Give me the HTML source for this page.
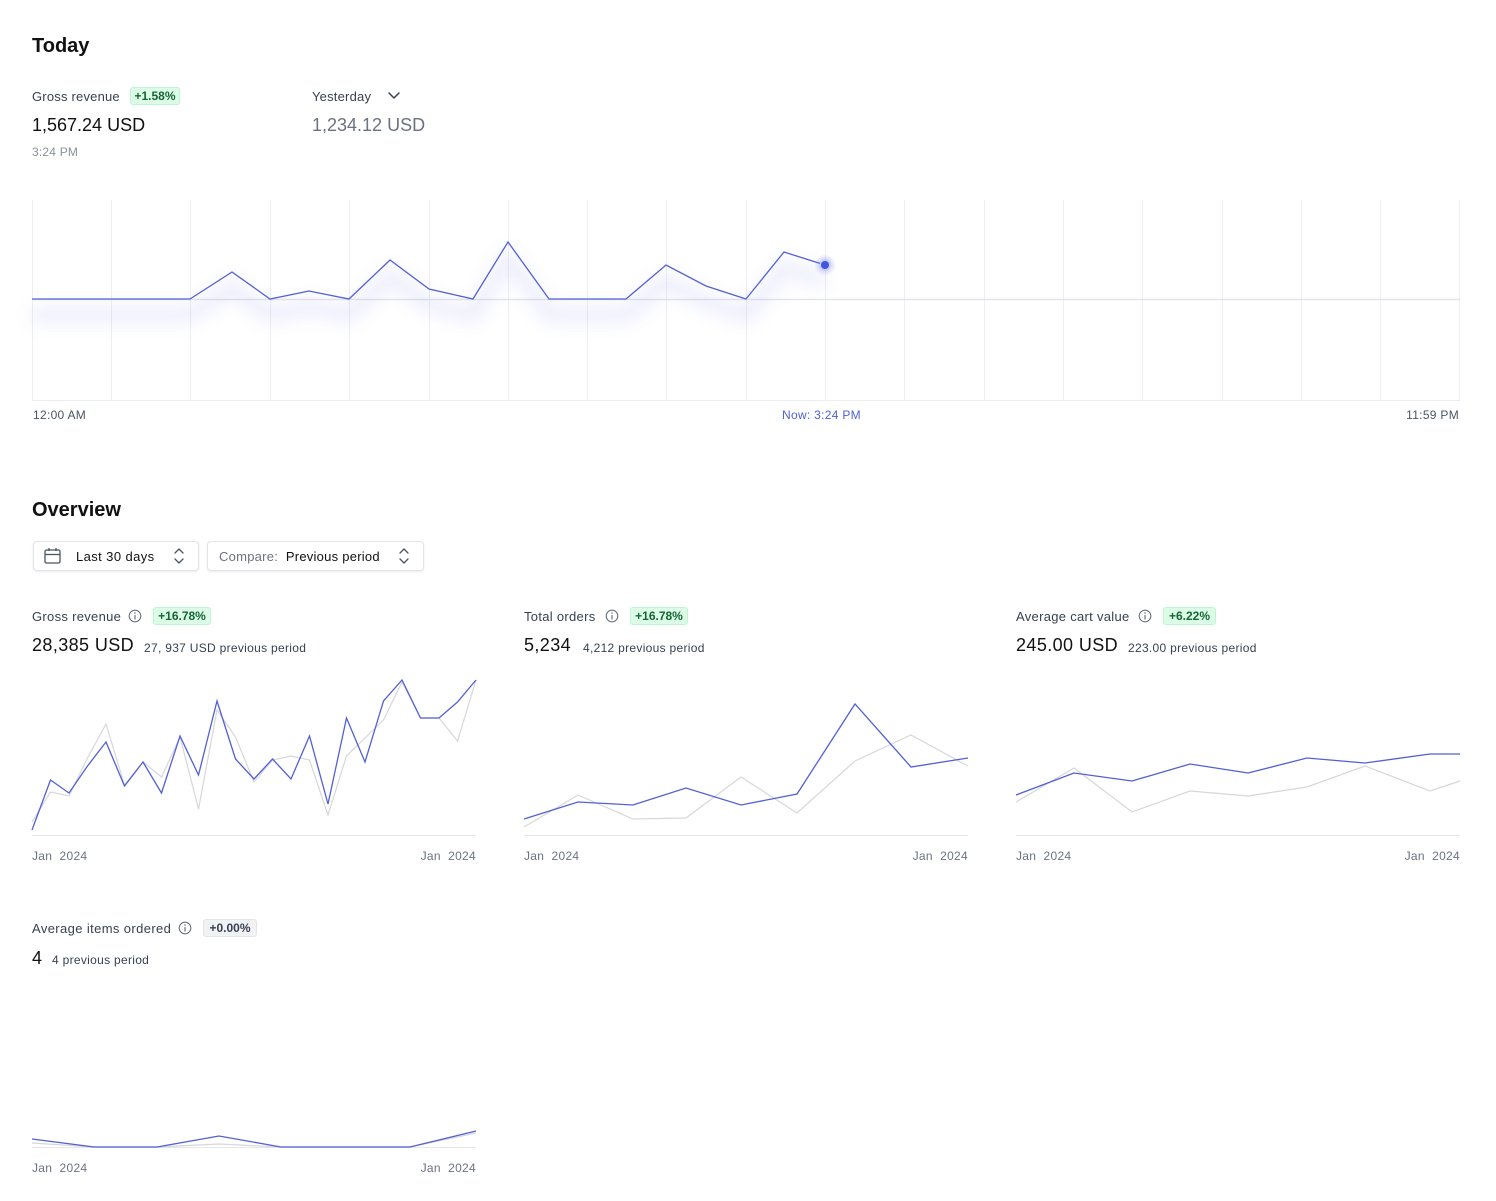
<!DOCTYPE html>
<html><head><meta charset="utf-8">
<style>
*{margin:0;padding:0;box-sizing:border-box}
html,body{width:1496px;height:1201px;background:#fff;overflow:hidden}
body{position:relative;font-family:"Liberation Sans",Arial,sans-serif;color:#111827}
.t{position:absolute;white-space:nowrap;line-height:1}
.h{font-size:20px;font-weight:bold;color:#111}
.lbl{font-size:13px;color:#374151;letter-spacing:.3px}
.val{font-size:18px;color:#111}
.val2{font-size:18px;color:#111;letter-spacing:.4px}
.sub{font-size:12px;color:#374151;letter-spacing:.3px}
.ax{font-size:12px;color:#6b7280;letter-spacing:.3px}
.badge{position:absolute;height:18px;border-radius:3px;background:#dcfce7;border:1px solid #bbf7d0;color:#166534;font-size:12px;line-height:16px;text-align:center;font-weight:bold}
.badge.g{background:#f1f2f4;border-color:#e3e5e8;color:#374151}
.btn{position:absolute;top:541px;height:30px;border:1px solid #e2e4e8;border-radius:4px;box-shadow:0 1px 2px rgba(0,0,0,.08);background:#fff}
svg{position:absolute;left:0;top:0}
</style></head><body>

<div class="btn" style="left:33px;width:166px"></div>
<div class="btn" style="left:207px;width:217px"></div>

<svg width="1496" height="1201" viewBox="0 0 1496 1201">
  <defs>
    <filter id="blur" x="-10%" y="-50%" width="120%" height="200%"><feGaussianBlur stdDeviation="8"/></filter>
    <radialGradient id="halo"><stop offset="0" stop-color="#4a5ee8" stop-opacity=".45"/><stop offset="1" stop-color="#4a5ee8" stop-opacity="0"/></radialGradient>
  </defs>
  <g stroke="#eceef2" stroke-width="1">
    <line x1="32.5" y1="200" x2="32.5" y2="400"/>
    <line x1="111.5" y1="200" x2="111.5" y2="400"/>
    <line x1="190.5" y1="200" x2="190.5" y2="400"/>
    <line x1="270.5" y1="200" x2="270.5" y2="400"/>
    <line x1="349.5" y1="200" x2="349.5" y2="400"/>
    <line x1="429.5" y1="200" x2="429.5" y2="400"/>
    <line x1="508.5" y1="200" x2="508.5" y2="400"/>
    <line x1="587.5" y1="200" x2="587.5" y2="400"/>
    <line x1="666.5" y1="200" x2="666.5" y2="400"/>
    <line x1="746.5" y1="200" x2="746.5" y2="400"/>
    <line x1="825.5" y1="200" x2="825.5" y2="400"/>
    <line x1="904.5" y1="200" x2="904.5" y2="400"/>
    <line x1="984.5" y1="200" x2="984.5" y2="400"/>
    <line x1="1063.5" y1="200" x2="1063.5" y2="400"/>
    <line x1="1142.5" y1="200" x2="1142.5" y2="400"/>
    <line x1="1222.5" y1="200" x2="1222.5" y2="400"/>
    <line x1="1301.5" y1="200" x2="1301.5" y2="400"/>
    <line x1="1380.5" y1="200" x2="1380.5" y2="400"/>
    <line x1="1459.5" y1="200" x2="1459.5" y2="400"/>
    <line x1="32" y1="400.5" x2="1460" y2="400.5"/>
  </g>
  <line x1="32" y1="299.5" x2="1460" y2="299.5" stroke="#e3e5e9" stroke-width="1.5"/>
  <polyline transform="translate(0,16)" filter="url(#blur)" fill="none" stroke="#6f7be6" stroke-opacity=".12" stroke-width="16" stroke-linejoin="round"
    points="32,299 111,299 190,299 232,272 270,299 309,291 349,299 390,260 429,289 473,299 508,242 549,299 587,299 626,299 666,265 706,286 746,299 784,252 825,265"/>
  <polyline fill="none" stroke="#5260d6" stroke-width="1.3" stroke-linejoin="miter"
    points="32,299 111,299 190,299 232,272 270,299 309,291 349,299 390,260 429,289 473,299 508,242 549,299 587,299 626,299 666,265 706,286 746,299 784,252 825,265"/>
  <circle cx="825" cy="265" r="11" fill="url(#halo)"/>
  <circle cx="825" cy="265" r="5.5" fill="#c7ccf6"/>
  <circle cx="825" cy="265" r="4" fill="#3f55e0"/>

  <line x1="32" y1="835.5" x2="476" y2="835.5" stroke="#e5e7eb"/>
  <polyline fill="none" stroke="#d6d7da" stroke-width="1.2" points="32,822 50.5,792 69,796 87.5,758 106,724 124.5,785 143,762 161.5,777 180,737 198.5,809 217,710 235.5,737 254,782 272.5,760 291,756 309.5,760 328,815 346.5,756 365,738 383.5,720 402,682 420.5,718 439,718 457.5,741 476,680"/>
  <polyline fill="none" stroke="#5260d6" stroke-width="1.3" points="32,830 50.5,780 69,793 87.5,766 106,742 124.5,786 143,762 161.5,793 180,736 198.5,775 217,701 235.5,759 254,779 272.5,759 291,779 309.5,736 328,804 346.5,718 365,762 383.5,701 402,680 420.5,718 439,718 457.5,702 476,680"/>

  <line x1="524" y1="835.5" x2="968" y2="835.5" stroke="#e5e7eb"/>
  <polyline fill="none" stroke="#d6d7da" stroke-width="1.2" points="524,827 578,795 633,819 686,818 741,777 797,813 855,761 911,735 968,766"/>
  <polyline fill="none" stroke="#5260d6" stroke-width="1.3" points="524,819 578,802 633,805 686,788 741,805 797,794 855,704 911,767 968,758"/>

  <line x1="1016" y1="835.5" x2="1460" y2="835.5" stroke="#e5e7eb"/>
  <polyline fill="none" stroke="#d6d7da" stroke-width="1.2" points="1016,802 1074,768 1132,812 1190,791 1248,796 1307,787 1365,766 1430,791 1460,781"/>
  <polyline fill="none" stroke="#5260d6" stroke-width="1.3" points="1016,795 1074,773 1132,781 1190,764 1248,773 1307,758 1365,763 1430,754 1460,754"/>

  <line x1="32" y1="1147.5" x2="476" y2="1147.5" stroke="#e5e7eb"/>
  <polyline fill="none" stroke="#d6d7da" stroke-width="1.2" points="32,1143 94,1147 157,1147 219,1144 281,1147 410,1147 476,1133"/>
  <polyline fill="none" stroke="#5260d6" stroke-width="1.3" points="32,1139 94,1147 157,1147 219,1136 281,1147 410,1147 476,1131"/>

  <polyline points="389,93 394,98 399,93" fill="none" stroke="#374151" stroke-width="1.5" stroke-linecap="round" stroke-linejoin="round"/>
  <g fill="none" stroke="#4b5563" stroke-width="1.3">
    <rect x="45" y="550" width="15" height="13" rx="1.5"/>
    <line x1="45" y1="554.5" x2="60" y2="554.5"/>
    <line x1="49" y1="548" x2="49" y2="551"/>
    <line x1="56" y1="548" x2="56" y2="551"/>
  </g>
  <g fill="none" stroke="#4b5563" stroke-width="1.3" stroke-linecap="round" stroke-linejoin="round">
    <polyline points="175,553 179,549 183,553"/><polyline points="175,559 179,563 183,559"/>
    <polyline points="400,553 404,549 408,553"/><polyline points="400,559 404,563 408,559"/>
  </g>
  <g fill="none" stroke="#6b7280" stroke-width="1.1">
    <circle cx="135" cy="616" r="5.8"/>
    <circle cx="612" cy="616" r="5.8"/>
    <circle cx="1145" cy="616" r="5.8"/>
    <circle cx="185" cy="928" r="5.8"/>
  </g>
  <g stroke="#6b7280" stroke-width="1.2">
    <line x1="135" y1="615" x2="135" y2="619.5"/><line x1="612" y1="615" x2="612" y2="619.5"/>
    <line x1="1145" y1="615" x2="1145" y2="619.5"/><line x1="185" y1="927" x2="185" y2="931.5"/>
  </g>
  <g fill="#6b7280">
    <circle cx="135" cy="613" r=".8"/><circle cx="612" cy="613" r=".8"/>
    <circle cx="1145" cy="613" r=".8"/><circle cx="185" cy="925" r=".8"/>
  </g>
</svg>

<div class="t h" style="left:32px;top:36px">Today</div>
<div class="t lbl" style="left:32px;top:90px;letter-spacing:.2px">Gross revenue</div>
<div class="badge" style="left:130px;top:87px;width:50px">+1.58%</div>
<div class="t lbl" style="left:312px;top:90px;letter-spacing:.2px">Yesterday</div>
<div class="t val" style="left:32px;top:116px">1,567.24 USD</div>
<div class="t val" style="left:312px;top:116px;color:#6b7280">1,234.12 USD</div>
<div class="t" style="left:32px;top:146px;font-size:12px;color:#8b919a;letter-spacing:.2px">3:24 PM</div>

<div class="t ax" style="left:33px;top:409px;color:#4b5563">12:00 AM</div>
<div class="t ax" style="left:782px;top:409px;color:#4f62d8">Now: 3:24 PM</div>
<div class="t ax" style="right:37px;top:409px;color:#4b5563">11:59 PM</div>

<div class="t h" style="left:32px;top:500px">Overview</div>
<div class="t" style="left:76px;top:550px;font-size:13px;color:#111;letter-spacing:.4px">Last 30 days</div>
<div class="t" style="left:219px;top:550px;font-size:13px;color:#6b7280;letter-spacing:.25px">Compare:&nbsp; <span style="color:#111">Previous period</span></div>

<div class="t lbl" style="left:32px;top:610px">Gross revenue</div>
<div class="badge" style="left:153px;top:607px;width:58px">+16.78%</div>
<div class="t val2" style="left:32px;top:636px">28,385 USD</div>
<div class="t sub" style="left:144px;top:642px">27, 937 USD previous period</div>
<div class="t ax" style="left:32px;top:850px">Jan&nbsp; 2024</div>
<div class="t ax" style="right:1020px;top:850px">Jan&nbsp; 2024</div>

<div class="t lbl" style="left:524px;top:610px">Total orders</div>
<div class="badge" style="left:630px;top:607px;width:58px">+16.78%</div>
<div class="t val2" style="left:524px;top:636px">5,234</div>
<div class="t sub" style="left:583px;top:642px">4,212 previous period</div>
<div class="t ax" style="left:524px;top:850px">Jan&nbsp; 2024</div>
<div class="t ax" style="right:528px;top:850px">Jan&nbsp; 2024</div>

<div class="t lbl" style="left:1016px;top:610px">Average cart value</div>
<div class="badge" style="left:1163px;top:607px;width:53px">+6.22%</div>
<div class="t val2" style="left:1016px;top:636px">245.00 USD</div>
<div class="t sub" style="left:1128px;top:642px">223.00 previous period</div>
<div class="t ax" style="left:1016px;top:850px">Jan&nbsp; 2024</div>
<div class="t ax" style="right:36px;top:850px">Jan&nbsp; 2024</div>

<div class="t lbl" style="left:32px;top:922px;letter-spacing:.38px">Average items ordered</div>
<div class="badge g" style="left:203px;top:919px;width:54px">+0.00%</div>
<div class="t val2" style="left:32px;top:949px">4</div>
<div class="t sub" style="left:52px;top:954px">4 previous period</div>
<div class="t ax" style="left:32px;top:1162px">Jan&nbsp; 2024</div>
<div class="t ax" style="right:1020px;top:1162px">Jan&nbsp; 2024</div>

</body></html>
